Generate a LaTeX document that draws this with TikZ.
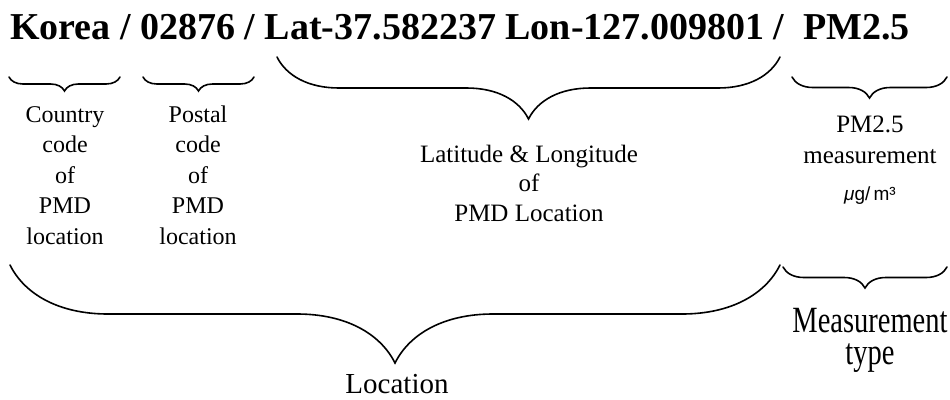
\documentclass[tikz,border=0pt]{standalone}
\usepackage{fontspec}
\setmainfont{Liberation Serif}
\newfontfamily\narrowserif[FakeStretch=0.77]{Liberation Serif}
\newfontfamily\unitfont{Liberation Sans}
\usetikzlibrary{decorations.pathreplacing}
\tikzstyle{field} = [inner sep=0pt, align=center, anchor=base]
\tikzstyle{brace} = [decorate, line width=1.6pt, line cap=round]
\tikzstyle{smallbrace} = [brace, decoration={brace, mirror, amplitude=14pt}]
\tikzstyle{midbrace} = [brace, decoration={brace, mirror, amplitude=21pt}]

\begin{document}
\begin{tikzpicture}[x=1pt, y=-1pt]
\useasboundingbox (0,0) rectangle (950,399);
% the record string
\node (header) [inner sep=0pt, anchor=base west, font=\fontsize{38}{46}\selectfont\bfseries] at (10,39)
  {Korea / 02876 / Lat-37.582237 Lon-127.009801 /~ PM2.5};
% brace ends
\coordinate (country-w) at (9,77);    \coordinate (country-e) at (120,77);
\coordinate (postal-w) at (143,77);   \coordinate (postal-e) at (254,77);
\coordinate (latlon-w) at (277,57);   \coordinate (latlon-e) at (780,57);
\coordinate (pm-w) at (792,77);       \coordinate (pm-e) at (947,77);
\coordinate (loc-w) at (10,265);      \coordinate (loc-e) at (780,265);
\coordinate (type-w) at (783,267);    \coordinate (type-e) at (947,267);
\draw [smallbrace] (country-w) -- (country-e);
\draw [smallbrace] (postal-w) -- (postal-e);
\draw [brace, decoration={brace, mirror, amplitude=62pt}] (latlon-w) -- (latlon-e);
\draw [midbrace] (pm-w) -- (pm-e);
\draw [brace, decoration={brace, mirror, amplitude=98pt}] (loc-w) -- (loc-e);
\draw [midbrace] (type-w) -- (type-e);
% field descriptions (base = last line)
\node (country) [field, font=\fontsize{24}{30.5}\selectfont] at (65,244)
  {Country\\code\\of\\PMD\\location};
\node (postal) [field, font=\fontsize{24}{30.5}\selectfont] at (198,244)
  {Postal\\code\\of\\PMD\\location};
\node (latlon) [field, font=\fontsize{25}{29.5}\selectfont] at (529,221)
  {Latitude \& Longitude\\of\\PMD Location};
\node (pm) [field, font=\fontsize{25}{31}\selectfont] at (870,200)
  {PM2.5\\measurement\\[6pt]{\unitfont\fontsize{19}{22}\selectfont\itshape μ\upshape g/\,m³}};
% groups
\node (location) [field, font=\fontsize{29}{34}\selectfont] at (397,393) {Location};
\node (mtype) [field, font=\narrowserif\fontsize{37}{32}\selectfont] at (870,364)
  {Measurement\\type};
\end{tikzpicture}
\end{document}
